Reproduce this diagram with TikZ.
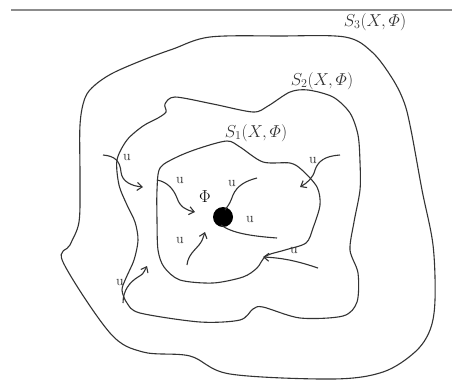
\documentclass[tikz,border=0pt]{standalone}
\usepackage{amsmath}
\usetikzlibrary{arrows.meta}
\begin{document}
\begin{tikzpicture}[x=1pt,y=-1pt,
  curve/.style={draw=black!80, line width=1.1pt},
  flow/.style={draw=black!80, line width=1.1pt, -{Straight Barb[length=5pt,width=8pt]}},
  ulab/.style={font=\fontsize{14}{14}\selectfont, inner sep=0pt, text=black!80},
  slab/.style={font=\fontsize{17}{17}\selectfont, inner sep=0pt, text=black!80}]
\useasboundingbox (0,0) rectangle (452,381);
\fill[white] (0,0) rectangle (452,381);
\draw[black!45, line width=2.8pt] (11,10) -- (452,10);
% S3
\draw[curve] plot[smooth cycle, tension=0.55] coordinates {
 (210,37) (280,36) (345,37) (372,52) (392,78) (404,102) (411,130) (422,190)
 (433,245) (435,300) (430,330) (415,352) (383,372) (333,379) (230,374)
 (190,356) (143,352) (110,333) (63,262) (70,245) (79,222) (80,180) (80,125)
 (85,98) (95,85) (113,73) (143,60) (173,49)};
% S2
\draw[curve] plot[smooth cycle, tension=0.5] coordinates {
 (175,97) (213,104) (253,112) (268,106) (290,92) (308,90) (333,97) (350,113)
 (358,135) (360,162) (360,190) (354,222) (350,250) (358,273) (357,302)
 (343,316) (300,318) (263,307) (253,309) (240,320) (200,322) (140,313)
 (127,303) (122,290) (126,278) (134,260) (138,240) (135,222) (127,205)
 (119,185) (117,160) (127,140) (143,126) (158,118) (166,112) (165,104)};
% S1
\draw[curve] plot[smooth cycle, tension=0.5] coordinates {
 (177,157) (200,148) (227,141) (240,147) (263,162) (290,163) (302,170)
 (317,187) (320,205) (313,228) (306,243) (285,250) (266,256) (257,268)
 (243,277) (213,283) (180,280) (164,267) (158,250) (157,220) (157,190) (160,168)};
% labels
\node[slab] (s3) at (375,22) {$S_3(X,\varPhi)$};
\node[slab] (s2) at (322,81) {$S_2(X,\varPhi)$};
\node[slab] (s1) at (256,133) {$S_1(X,\varPhi)$};
\node[font=\fontsize{18}{18}\selectfont, inner sep=0pt] (phi) at (205,197) {$\Phi$};
\fill[black] (223,217) circle (10);
\coordinate (dot) at (223,217);
% arrows
\draw[flow] (103,155) .. controls (115,156) and (120,161) .. (121,172) .. controls (122,182) and (132,186) .. (143,187);
\node[ulab] (u1) at (127,157) {u};
\draw[flow] (340,155) .. controls (325,156) and (318,161) .. (315,170) .. controls (313,178) and (307,183) .. (300,187);
\node[ulab] (u2) at (313,160) {u};
\draw[flow] (157,180) .. controls (168,182) and (174,190) .. (177,198) .. controls (180,207) and (186,210) .. (195,212);
\node[ulab] (u3) at (180,180) {u};
\draw[curve] (257,178) .. controls (245,181) and (237,186) .. (233,195) .. controls (230,203) .. (225,210);
\node[ulab] (u4) at (232,183) {u};
\draw[curve] (dot) ++(-2,8) .. controls (232,233) and (250,236) .. (277,238);
\node[ulab] (u5) at (250,219) {u};
\draw[flow] (187,265) .. controls (188,255) and (195,250) .. (199,245) .. controls (202,241) .. (205,232);
\node[ulab] (u6) at (180,240) {u};
\draw[flow] (318,268) .. controls (300,262) and (285,258) .. (263,257);
\node[ulab] (u7) at (294,250) {u};
\draw[flow] (123,303) .. controls (123,290) and (130,282) .. (138,277) .. controls (143,274) .. (147,266);
\node[ulab] (u8) at (120,282) {u};
\end{tikzpicture}
\end{document}
